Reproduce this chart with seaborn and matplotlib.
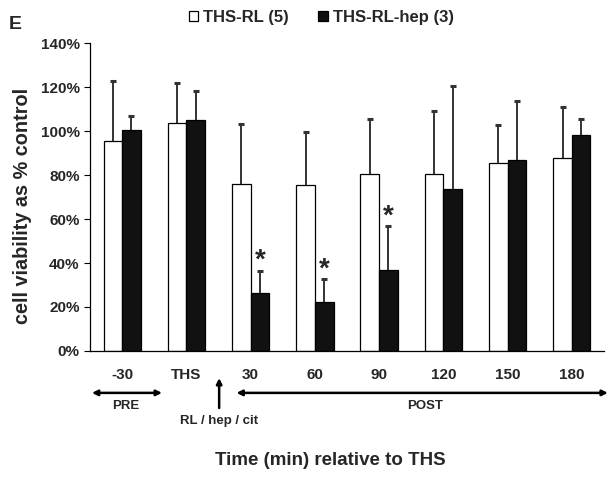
import numpy as np
import pandas as pd
import matplotlib.pyplot as plt
import matplotlib.transforms as mtransforms
from matplotlib.patches import Patch
import seaborn as sns

# values (cell viability, % of control; upper SD only)
times = ["-30", "THS", "30", "60", "90", "120", "150", "180"]
rl_mean = [95.3, 103.8, 76.1, 75.5, 80.4, 80.4, 85.4, 87.8]
rl_sd = [27.3, 18.0, 27.3, 24.1, 25.2, 28.7, 17.2, 23.0]
hep_mean = [100.3, 104.9, 26.2, 22.1, 36.8, 73.7, 86.9, 98.1]
hep_sd = [6.4, 13.1, 10.3, 10.6, 20.0, 46.6, 26.8, 7.5]
signif = ["30", "60", "90"]  # starred hep bars
groups = ["THS-RL (5)", "THS-RL-hep (3)"]

df = pd.DataFrame({
    "time": times * 2,
    "viability": rl_mean + hep_mean,
    "group": [groups[0]] * len(times) + [groups[1]] * len(times),
})

sns.set_style("white")
plt.rcParams["font.family"] = ["Liberation Sans", "DejaVu Sans"]
plt.rcParams["font.weight"] = "bold"

fig = plt.figure(figsize=(6.14, 4.78), dpi=100)
ax = fig.add_axes([0.1466, 0.2657, 0.8371, 0.6443])

sns.barplot(data=df, x="time", y="viability", hue="group", order=times,
            hue_order=groups, palette=["white", "#111111"], edgecolor="black",
            linewidth=0.9, width=0.58, errorbar=None, legend=False, ax=ax)

# one-sided (upper) error bars
for cont, sds in zip(ax.containers, [rl_sd, hep_sd]):
    for bar, sd in zip(cont, sds):
        xc = bar.get_x() + bar.get_width() / 2
        top = bar.get_height() + sd
        ax.vlines(xc, bar.get_height(), top, color="#333333", lw=1.4, zorder=3)
        ax.plot(xc, top, marker="_", ms=5, mew=2.2, color="#333333", zorder=3)

# significance stars
for bar, t, sd in zip(ax.containers[1], times, hep_sd):
    if t in signif:
        xc = bar.get_x() + bar.get_width() / 2
        ax.annotate("*", xy=(xc, bar.get_height() + sd), xytext=(0, 2),
                    textcoords="offset points", ha="center", va="baseline",
                    fontsize=20, fontweight="bold")

ax.set_ylim(0, 140)
ax.set_xlim(-0.5, len(times) - 0.5)
ax.set_yticks(np.arange(0, 141, 20))
ax.set_yticklabels([f"{v}%" for v in range(0, 141, 20)], fontsize=11)
ax.set_xticks(range(len(times)))
ax.set_xticklabels(times, fontsize=11)
ax.set_xticks(np.arange(-0.5, len(times)), minor=True)
ax.tick_params(axis="x", which="major", length=0, pad=12)
ax.tick_params(axis="x", which="minor", length=4, width=0.8, color="black", direction="out")
ax.tick_params(axis="y", length=4, width=0.8, color="black", direction="out", left=True)
for s in ["top", "right"]:
    ax.spines[s].set_visible(False)
for s in ["left", "bottom"]:
    ax.spines[s].set_color("black")
    ax.spines[s].set_linewidth(0.9)

ax.set_xlabel("")
ax.set_ylabel("cell viability as % control", fontsize=14.3, fontweight="bold")
ax.yaxis.label.set_va("center")
ax.yaxis.set_label_coords(-0.132, 0.471)
fig.text(0.538, 0.036, "Time (min) relative to THS", ha="center", va="center",
         fontsize=13.5, fontweight="bold")

# period annotations below the axis
tr = mtransforms.blended_transform_factory(ax.transData, ax.transAxes)
arrow = dict(arrowstyle="<|-|>", color="black", lw=1.8, mutation_scale=8,
             shrinkA=0, shrinkB=0)
ax.annotate("", xy=(-0.47, -0.136), xytext=(0.62, -0.136), xycoords=tr,
            textcoords=tr, arrowprops=arrow, annotation_clip=False)
ax.text(0.05, -0.179, "PRE", transform=tr, ha="center", va="center", fontsize=9.5)
ax.annotate("", xy=(7.56, -0.136), xytext=(1.78, -0.136), xycoords=tr,
            textcoords=tr, arrowprops=arrow, annotation_clip=False)
ax.text(4.71, -0.179, "POST", transform=tr, ha="center", va="center", fontsize=9.5)
ax.annotate("", xy=(1.51, -0.088), xytext=(1.51, -0.185), xycoords=tr,
            textcoords=tr, annotation_clip=False,
            arrowprops=dict(arrowstyle="-|>", color="black", lw=1.8,
                            mutation_scale=8, shrinkA=0, shrinkB=0))
ax.text(1.51, -0.227, "RL / hep / cit", transform=tr, ha="center", va="center",
        fontsize=9.5)

# legend and panel letter
handles = [Patch(facecolor="white", edgecolor="black", linewidth=0.9),
           Patch(facecolor="#111111", edgecolor="black", linewidth=0.9)]
fig.legend(handles, groups, loc="center", bbox_to_anchor=(0.523, 0.963), ncol=2,
           frameon=False, handlelength=0.55, handleheight=0.55,
           handletextpad=0.3, columnspacing=1.8, prop={"weight": "bold", "size": 12})
fig.text(0.014, 0.948, "E", ha="left", va="center", fontsize=14, fontweight="bold")

fig.savefig("out.png", dpi=100)
